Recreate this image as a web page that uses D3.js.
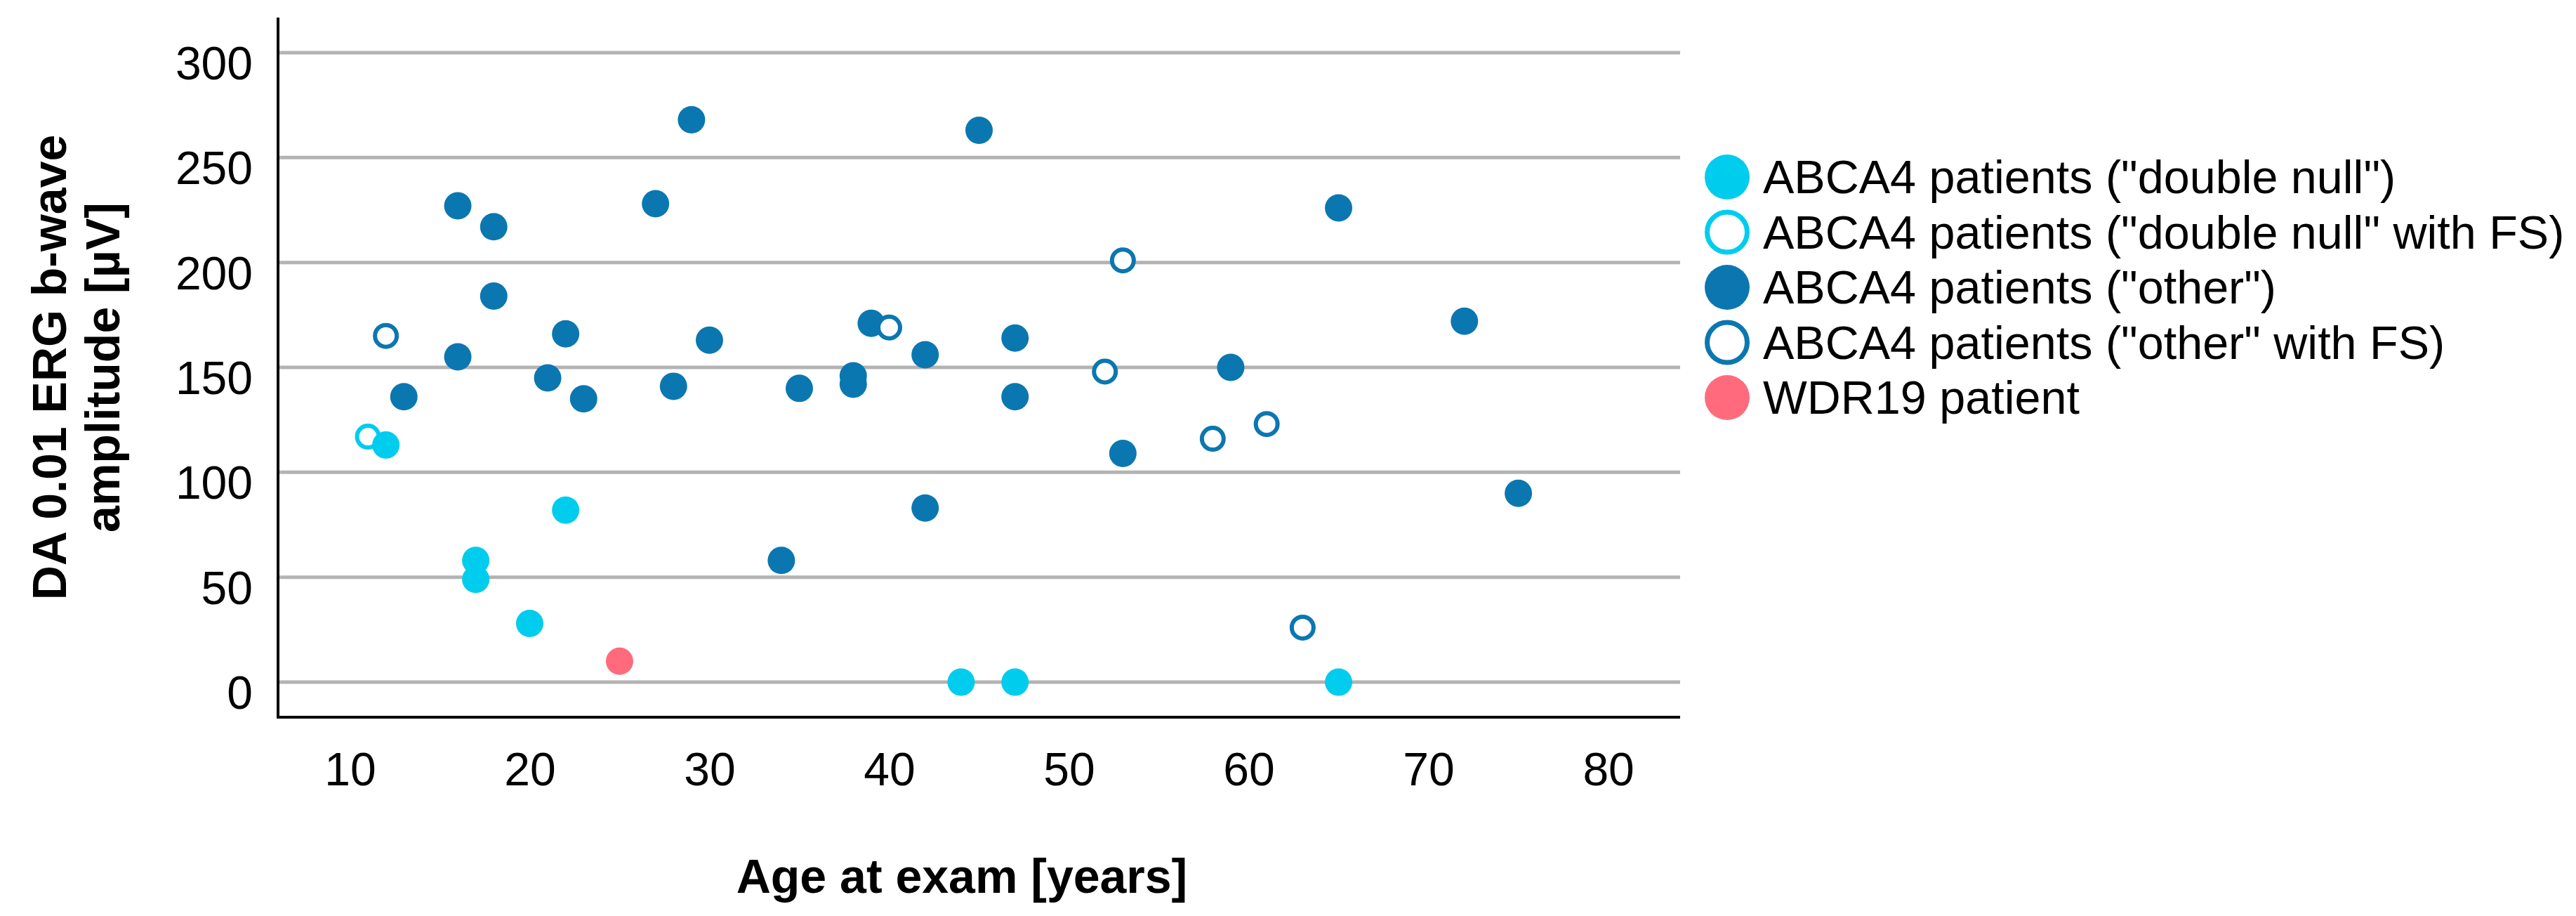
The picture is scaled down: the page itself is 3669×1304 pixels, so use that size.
<!DOCTYPE html>
<html>
<head>
<meta charset="utf-8">
<script src="https://cdn.jsdelivr.net/npm/d3@7"></script>
<style>
  html, body { margin: 0; padding: 0; background: #fff; }
  svg { display: block; font-family: "Liberation Sans", Arial, Helvetica, sans-serif; }
</style>
</head>
<body>
<svg id="chart" width="3669" height="1304"></svg>
<script>
// ---- data ----
const doubleNullAges   = [12, 17, 17, 22, 20, 44, 47, 65];
const doubleNullValues = [113, 58, 49, 82, 28, 0, 0, 0];

const doubleNullFSAges   = [11];
const doubleNullFSValues = [117];

const otherAges   = [13, 16, 16, 18, 18, 21, 22, 23, 27, 28, 29, 30, 34, 35, 38, 38, 39, 42, 42, 45, 47, 47, 53, 59, 65, 72, 75];
const otherValues = [136, 227, 155, 217, 184, 145, 166, 135, 228, 141, 268, 163, 58, 140, 146, 142, 171, 156, 83, 263, 164, 136, 109, 150, 226, 172, 90];

const otherFSAges   = [12, 40, 52, 53, 58, 61, 63];
const otherFSValues = [165, 169, 148, 201, 116, 123, 26];

const wdr19Ages   = [25];
const wdr19Values = [10];

const xTicks = [10, 20, 30, 40, 50, 60, 70, 80];
const yTicks = [0, 50, 100, 150, 200, 250, 300];

const seriesNames = [
  'ABCA4 patients ("double null")',
  'ABCA4 patients ("double null" with FS)',
  'ABCA4 patients ("other")',
  'ABCA4 patients ("other" with FS)',
  'WDR19 patient'
];
const CYAN = "#00CDEE", BLUE = "#0B77B0", PINK = "#FF6B7D";

(function () {
// ---- layout ----
const svg = d3.select("#chart");
svg.append("rect").attr("width", 3669).attr("height", 1304).attr("fill", "#fff");

const pLeft = 396, pRight = 2393, pTop = 25, pBottom = 1021;
const x = d3.scaleLinear().domain([6, 84]).range([pLeft, pRight]);
const y = d3.scaleLinear().domain([-16.7, 316.7]).range([pBottom, pTop]);

// gridlines
svg.append("g").selectAll("line").data(yTicks).join("line")
  .attr("x1", pLeft).attr("x2", pRight)
  .attr("y1", d => y(d)).attr("y2", d => y(d))
  .attr("stroke", "#b3b3b3").attr("stroke-width", 5);

// y axis (labels only, via d3 axis)
const yAxis = svg.append("g").attr("transform", `translate(${pLeft},0)`)
  .call(d3.axisLeft(y).tickValues(yTicks).tickSize(0).tickPadding(36));
yAxis.select(".domain").remove();
yAxis.selectAll("text").attr("font-size", 66).attr("fill", "#000")
  .attr("font-family", '"Liberation Sans", Arial, sans-serif')
  .attr("dy", null).attr("y", 37.5);

// x axis labels
const xAxis = svg.append("g").attr("transform", `translate(0,${pBottom})`)
  .call(d3.axisBottom(x).tickValues(xTicks).tickSize(0).tickPadding(50));
xAxis.select(".domain").remove();
xAxis.selectAll("text").attr("font-size", 66).attr("fill", "#000")
  .attr("font-family", '"Liberation Sans", Arial, sans-serif');

// axis lines
svg.append("line").attr("x1", pLeft).attr("x2", pLeft).attr("y1", pTop).attr("y2", pBottom + 2)
  .attr("stroke", "#000").attr("stroke-width", 4);
svg.append("line").attr("x1", pLeft - 2).attr("x2", pRight).attr("y1", pBottom).attr("y2", pBottom)
  .attr("stroke", "#000").attr("stroke-width", 4);

// axis titles
svg.append("text").attr("x", 1370).attr("y", 1271).attr("text-anchor", "middle")
  .attr("font-size", 68).attr("font-weight", "bold").text("Age at exam [years]");
const yt = svg.append("text").attr("transform", "translate(94,523) rotate(-90)")
  .attr("text-anchor", "middle").attr("font-size", 68).attr("font-weight", "bold");
yt.append("tspan").attr("x", 0).attr("y", 0).text("DA 0.01 ERG b-wave");
yt.append("tspan").attr("x", 0).attr("y", 76).text("amplitude [µV]");

// ---- marks ----
function zip(a, v) { return a.map((d, i) => ({ age: d, val: v[i] })); }
function drawFilled(data, color) {
  svg.append("g").selectAll("circle").data(data).join("circle")
    .attr("cx", d => x(d.age)).attr("cy", d => y(d.val)).attr("r", 19.5)
    .attr("fill", color);
}
function drawOpen(data, color) {
  svg.append("g").selectAll("circle").data(data).join("circle")
    .attr("cx", d => x(d.age)).attr("cy", d => y(d.val)).attr("r", 15.5)
    .attr("fill", "#fff").attr("stroke", color).attr("stroke-width", 6);
}
drawOpen(zip(doubleNullFSAges, doubleNullFSValues), CYAN);
drawFilled(zip(doubleNullAges, doubleNullValues), CYAN);
drawFilled(zip(otherAges, otherValues), BLUE);
drawOpen(zip(otherFSAges, otherFSValues), BLUE);
drawFilled(zip(wdr19Ages, wdr19Values), PINK);

// ---- legend ----
const legendStyles = [
  { fill: CYAN, stroke: "none" },
  { fill: "#fff", stroke: CYAN },
  { fill: BLUE, stroke: "none" },
  { fill: "#fff", stroke: BLUE },
  { fill: PINK, stroke: "none" }
];
const lg = svg.append("g");
const ly = d3.scalePoint().domain(seriesNames).range([252, 566]);
seriesNames.forEach((name, i) => {
  const st = legendStyles[i];
  const open = st.stroke !== "none";
  lg.append("circle").attr("cx", 2460).attr("cy", ly(name))
    .attr("r", open ? 28.5 : 32).attr("fill", st.fill)
    .attr("stroke", open ? st.stroke : "none").attr("stroke-width", open ? 7 : 0);
  lg.append("text").attr("x", 2511).attr("y", ly(name) + 23)
    .attr("font-size", 66.5).attr("fill", "#000").text(name);
});
})();
</script>
</body>
</html>
